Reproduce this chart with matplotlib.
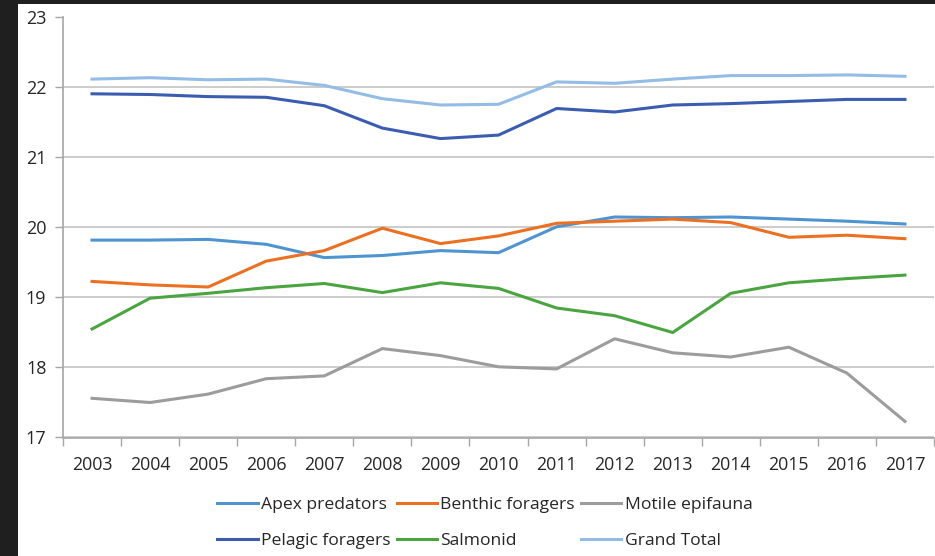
import matplotlib
matplotlib.use("Agg")
import matplotlib.pyplot as plt
from matplotlib.patches import Rectangle
import numpy as np

years = [str(y) for y in range(2003, 2018)]
apex = [19.82, 19.82, 19.83, 19.76, 19.57, 19.60, 19.67, 19.64, 20.01, 20.15, 20.14, 20.15, 20.12, 20.09, 20.05]
benthic = [19.23, 19.18, 19.15, 19.52, 19.67, 19.99, 19.77, 19.88, 20.06, 20.09, 20.12, 20.07, 19.86, 19.89, 19.84]
motile = [17.56, 17.50, 17.62, 17.84, 17.88, 18.27, 18.17, 18.01, 17.98, 18.41, 18.21, 18.15, 18.29, 17.92, 17.23]
pelagic = [21.91, 21.90, 21.87, 21.86, 21.74, 21.42, 21.27, 21.32, 21.70, 21.65, 21.75, 21.77, 21.80, 21.83, 21.83]
salmonid = [18.55, 18.99, 19.06, 19.14, 19.20, 19.07, 19.21, 19.13, 18.85, 18.74, 18.50, 19.06, 19.21, 19.27, 19.32]
grand = [22.12, 22.14, 22.11, 22.12, 22.03, 21.84, 21.75, 21.76, 22.08, 22.06, 22.12, 22.17, 22.17, 22.18, 22.16]
series_names = ["Apex predators", "Benthic foragers", "Motile epifauna",
                "Pelagic foragers", "Salmonid", "Grand Total"]
y_ticks = [17, 18, 19, 20, 21, 22, 23]

colors = ["#4e94d0", "#ec7022", "#9c9c9c", "#3b5db0", "#4aa540", "#93bce6"]
data = [apex, benthic, motile, pelagic, salmonid, grand]

plt.rcParams['font.family'] = ['Open Sans', 'DejaVu Sans']

W, H = 935, 556
fig = plt.figure(figsize=(W / 100, H / 100), dpi=100)
fig.patch.set_facecolor("white")
# dark frame strips
fig.add_artist(Rectangle((0, 0), 18 / W, 1, transform=fig.transFigure,
                         facecolor="#1f1f1f", edgecolor="none", zorder=-5))
fig.add_artist(Rectangle((0, 1 - 4 / H), 1, 4 / H, transform=fig.transFigure,
                         facecolor="#1f1f1f", edgecolor="none", zorder=-5))

left, right, top, bottom = 63, 934, 17.5, 437.5
ax = fig.add_axes([left / W, 1 - bottom / H, (right - left) / W, (bottom - top) / H])

x = np.arange(len(years))
lines = {}
for name, vals, c in zip(series_names, data, colors):
    ln, = ax.plot(x, vals, color=c, lw=2.2, solid_joinstyle="round", label=name)
    lines[name] = ln

ax.set_xlim(-0.5, len(years) - 0.5)
ax.set_ylim(17, 23)
ax.set_yticks(y_ticks)
ax.set_yticklabels([str(v) for v in y_ticks])
ax.yaxis.grid(True, color="#c3c3c3", lw=1.2)
ax.set_axisbelow(True)

ax.set_xticks(np.arange(-0.5, len(years), 1.0))
ax.set_xticklabels([])
ax.set_xticks(x, minor=True)
ax.set_xticklabels(years, minor=True)
ax.tick_params(axis="x", which="major", length=6, color="#a6a6a6", width=1)
ax.tick_params(axis="x", which="minor", length=0, pad=13, labelsize=12.8, labelcolor="#262626")
ax.tick_params(axis="y", length=6, color="#a6a6a6", width=1, pad=6, labelsize=13, labelcolor="#262626")

for s in ["top", "right"]:
    ax.spines[s].set_visible(False)
for s in ["left", "bottom"]:
    ax.spines[s].set_color("#a6a6a6")
    ax.spines[s].set_linewidth(1.2)

order = ["Apex predators", "Pelagic foragers", "Benthic foragers", "Salmonid",
         "Motile epifauna", "Grand Total"]
leg = fig.legend([lines[n] for n in order], order, ncol=3, loc="center",
                 bbox_to_anchor=(485 / W, 1 - 523 / H), frameon=False,
                 fontsize=12.6, handlelength=2.3, handletextpad=0.2,
                 columnspacing=0.35, labelspacing=1.1)
for t in leg.get_texts():
    t.set_color("#262626")

fig.savefig("out.png", dpi=100, facecolor=fig.get_facecolor())
